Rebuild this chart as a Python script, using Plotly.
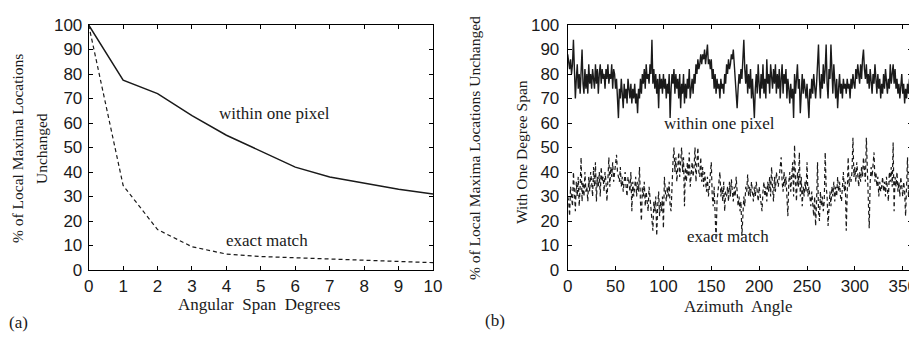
import plotly.graph_objects as go

# ---- Panel (a) data ----
span_deg = [0, 1, 2, 3, 4, 5, 6, 7, 8, 9, 10]
within_a = [100, 77.5, 72, 63, 55, 48.5, 42, 38, 35.5, 33, 31]
exact_a = [100, 34.5, 16.5, 9.5, 6.5, 5.5, 5, 4.5, 4, 3.5, 3]

# ---- Panel (b) data (azimuth 0..360, one per degree) ----
azimuth = list(range(0, 361))
within_b = [
    88, 84, 82, 86, 80, 84, 94, 82, 70, 78,
    84, 74, 80, 72, 84, 90, 76, 72, 82, 74,
    80, 72, 84, 76, 80, 74, 82, 78, 74, 84,
    76, 82, 72, 80, 84, 76, 82, 78, 80, 74,
    82, 78, 84, 76, 80, 78, 84, 74, 82, 80,
    74, 78, 72, 62, 74, 70, 78, 72, 66, 76,
    70, 74, 68, 78, 72, 70, 76, 68, 74, 70,
    76, 68, 72, 64, 74, 70, 78, 72, 80, 76,
    82, 74, 84, 78, 80, 76, 84, 80, 94, 76,
    82, 74, 80, 72, 78, 66, 80, 74, 78, 72,
    80, 74, 78, 70, 76, 72, 80, 62, 74, 80,
    76, 82, 72, 80, 74, 78, 70, 80, 66, 76,
    72, 80, 68, 76, 70, 78, 74, 82, 70, 76,
    78, 72, 80, 76, 84, 80, 86, 82, 84, 88,
    84, 88, 86, 90, 84, 88, 92, 84, 86, 82,
    86, 78, 82, 74, 80, 72, 78, 74, 76, 70,
    78, 74, 76, 72, 80, 76, 84, 80, 86, 82,
    84, 88, 86, 90, 84, 76, 70, 66, 74, 80,
    76, 82, 78, 86, 94, 82, 76, 84, 72, 80,
    74, 82, 70, 78, 66, 62, 74, 80, 72, 84,
    76, 70, 80, 74, 84, 72, 78, 70, 86, 76,
    80, 72, 84, 78, 74, 82, 76, 84, 72, 80,
    74, 82, 70, 78, 84, 72, 80, 76, 82, 70,
    78, 74, 68, 76, 70, 74, 62, 80, 72, 78,
    84, 74, 78, 64, 76, 80, 72, 78, 74, 70,
    76, 68, 62, 74, 70, 78, 72, 80, 74, 70,
    76, 84, 92, 78, 70, 80, 74, 84, 76, 82,
    92, 76, 70, 82, 78, 92, 80, 72, 84, 76,
    70, 78, 66, 74, 80, 72, 76, 70, 78, 74,
    76, 72, 78, 74, 76, 70, 78, 74, 80, 76,
    74, 82, 78, 84, 80, 76, 84, 78, 86, 90,
    82, 78, 84, 76, 80, 74, 82, 78, 72, 80,
    76, 84, 78, 72, 80, 74, 78, 70, 76, 72,
    80, 74, 82, 76, 72, 78, 74, 84, 76, 80,
    84, 76, 82, 74, 78, 72, 76, 70, 74, 80,
    72, 76, 68, 74, 70, 76, 72, 78, 74, 82, 88,
]
exact_b = [
    30, 28, 22, 34, 30, 26, 40, 32, 24, 36,
    30, 38, 26, 34, 46, 28, 36, 30, 40, 32,
    34, 28, 38, 32, 40, 36, 30, 42, 34, 44,
    28, 38, 34, 40, 30, 42, 36, 38, 32, 40,
    36, 28, 40, 46, 34, 42, 38, 44, 36, 40,
    44, 47, 40, 38, 36, 42, 34, 38, 32, 36,
    40, 34, 30, 38, 36, 32, 40, 24, 36, 30,
    34, 38, 30, 36, 32, 42, 28, 20, 34, 30,
    36, 26, 32, 28, 24, 34, 30, 26, 22, 16,
    28, 24, 30, 14, 26, 32, 22, 28, 24, 30,
    17, 38, 32, 28, 34, 30, 36, 26, 24, 38,
    44, 50, 40, 46, 36, 42, 48, 38, 44, 50,
    40, 46, 26, 42, 36, 44, 38, 48, 34, 40,
    44, 38, 42, 50, 36, 44, 50, 40, 38, 46,
    36, 42, 34, 40, 36, 32, 38, 30, 34, 40,
    44, 30, 26, 34, 20, 12, 28, 32, 36, 40,
    30, 34, 28, 36, 24, 32, 30, 34, 28, 36,
    30, 37, 32, 28, 34, 30, 38, 32, 26, 30,
    24, 28, 14, 22, 30, 26, 34, 32, 39, 30,
    34, 30, 36, 32, 28, 34, 30, 36, 32, 28,
    34, 30, 28, 24, 32, 36, 30, 34, 28, 36,
    32, 38, 30, 42, 34, 28, 38, 32, 40, 36,
    34, 38, 42, 46, 36, 32, 40, 34, 38, 30,
    22, 36, 40, 32, 38, 44, 30, 51, 36, 28,
    40, 34, 48, 30, 38, 26, 34, 30, 36, 32,
    44, 30, 34, 28, 26, 32, 24, 22, 30, 18,
    28, 44, 24, 20, 32, 26, 30, 24, 28, 48,
    34, 30, 18, 28, 32, 26, 34, 30, 36, 28,
    34, 30, 38, 32, 36, 30, 28, 34, 40, 32,
    36, 16, 30, 46, 34, 38, 36, 40, 54, 38,
    42, 36, 44, 38, 34, 40, 36, 42, 38, 46,
    40, 36, 54, 38, 30, 17, 36, 42, 38, 44,
    48, 36, 40, 34, 38, 30, 36, 32, 34, 38,
    32, 36, 30, 38, 34, 28, 40, 36, 42, 34,
    52, 24, 38, 34, 40, 32, 36, 30, 38, 34,
    30, 36, 32, 22, 38, 46, 30, 36, 40, 34, 38,
]

W, H = 917, 337
OFF = 8  # the page body adds an 8px margin; place everything relative to the screen
SANS = "Liberation Sans, Arial, sans-serif"
SERIF = "Liberation Serif, Times New Roman, serif"
INK = "#1a1a1a"


def fx(px):
    return (px - OFF) / W


def fy(py):
    return 1 - (py - OFF) / H


fig = go.Figure()
fig.add_trace(go.Scatter(x=span_deg, y=within_a, mode="lines", xaxis="x", yaxis="y",
                         line=dict(color=INK, width=1.5), showlegend=False))
fig.add_trace(go.Scatter(x=span_deg, y=exact_a, mode="lines", xaxis="x", yaxis="y",
                         line=dict(color=INK, width=1.2, dash="4px,3px"), showlegend=False))
fig.add_trace(go.Scatter(x=azimuth, y=within_b, mode="lines", xaxis="x2", yaxis="y2",
                         line=dict(color=INK, width=1.4), showlegend=False))
fig.add_trace(go.Scatter(x=azimuth, y=exact_b, mode="lines", xaxis="x2", yaxis="y2",
                         line=dict(color=INK, width=1.2, dash="4px,3px"), showlegend=False))

ydom = [fy(270), fy(25)]
axis_common = dict(showgrid=False, zeroline=False, showline=True, linecolor="black",
                   linewidth=1, mirror="ticks", ticks="inside", ticklen=4, automargin=False,
                   tickcolor="black", tickfont=dict(family=SANS, size=17, color=INK))

fig.update_layout(
    template="none",
    width=W, height=H, margin=dict(l=0, r=0, t=0, b=0, pad=0),
    paper_bgcolor="white", plot_bgcolor="white",
    xaxis=dict(domain=[fx(88.7), fx(433)], range=[0, 10], dtick=1, anchor="y",
               ticklabelstandoff=1, **axis_common),
    yaxis=dict(domain=ydom, range=[0, 100], dtick=10, anchor="x",
               ticklabelstandoff=2, **axis_common),
    xaxis2=dict(domain=[fx(567.7), fx(912.3)], range=[0, 360], dtick=50, anchor="y2",
                ticklabelstandoff=1, **axis_common),
    yaxis2=dict(domain=ydom, range=[0, 100], dtick=10, anchor="x2",
                ticklabelstandoff=4, **axis_common),
)

tfont = dict(family=SERIF, size=17, color=INK)
rfont = dict(family=SERIF, size=15.5, color=INK)
lfont = dict(family=SERIF, size=17, color=INK)


def pa(text, px, py, angle=0, font=tfont):
    return dict(text=text, x=fx(px), y=fy(py), xref="paper", yref="paper",
                xanchor="center", yanchor="middle", showarrow=False,
                textangle=angle, font=font)


def da(text, x, y, xr, yr):
    return dict(text=text, x=x, y=y, xref=xr, yref=yr, xanchor="center",
                yanchor="middle", showarrow=False, font=lfont)


ann = [
    pa("Angular\u00a0 Span\u00a0 Degrees", 259, 304),
    pa("Azimuth\u00a0 Angle", 738, 306),
    pa("% of Local Maxima Locations", 17, 149, -90, rfont),
    pa("Unchanged", 41, 149, -90, rfont),
    pa("% of Local Maxima Locations Unchanged", 474, 148, -90, rfont),
    pa("With One Degree Span", 521, 152, -90, rfont),
    pa("(a)", 18, 322),
    pa("(b)", 495, 320),
    da("within one pixel", 5.41, 63.7, "x", "y"),
    da("exact match", 5.18, 12.2, "x", "y"),
    da("within one pixel", 158.4, 59.6, "x2", "y2"),
    da("exact match", 167.8, 13.6, "x2", "y2"),
]
fig.update_layout(annotations=ann)

fig.write_html("out.html")
